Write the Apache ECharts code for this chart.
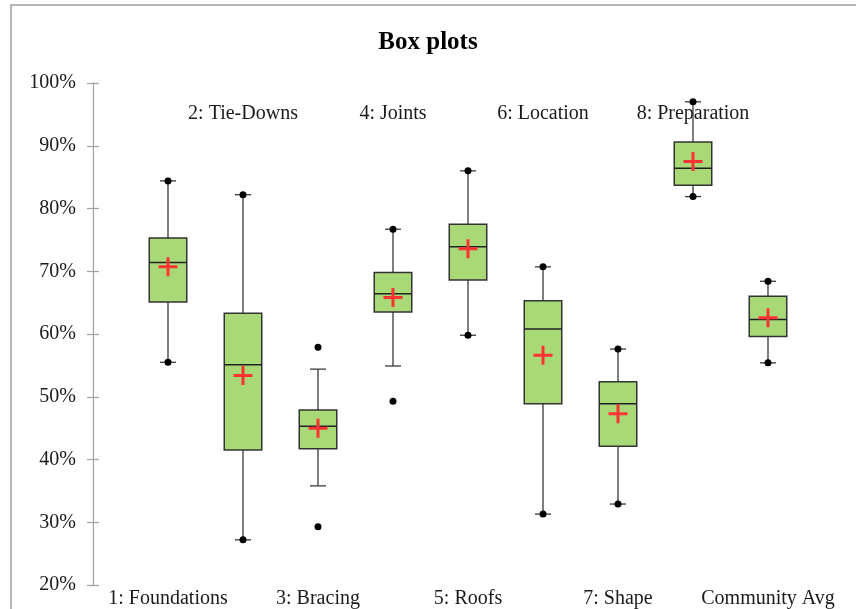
<!DOCTYPE html>
<html>
<head>
<meta charset="utf-8">
<script src="https://cdn.jsdelivr.net/npm/echarts@6/dist/echarts.min.js"></script>
<style>
  html, body { margin: 0; padding: 0; background: #fff; }
  #chart { width: 856px; height: 609px; }
</style>
</head>
<body>
<div id="chart"></div>
<script>
// categories and box statistics (percent)
var categories = ['1: Foundations', '2: Tie-Downs', '3: Bracing', '4: Joints', '5: Roofs', '6: Location', '7: Shape', '8: Preparation', 'Community Avg']
var whiskerLow = [55.5, 27.2, 35.8, 54.9, 59.8, 31.3, 32.9, 81.9, 55.4]
var q1 = [65.1, 41.5, 41.7, 63.5, 68.6, 48.9, 42.1, 83.7, 59.6]
var median = [71.4, 55.1, 45.3, 66.4, 73.9, 60.8, 48.9, 86.4, 62.3]
var q3 = [75.3, 63.3, 47.9, 69.8, 77.5, 65.3, 52.4, 90.6, 66.0]
var whiskerHigh = [84.4, 82.2, 54.4, 76.7, 86.0, 70.7, 57.6, 97.0, 68.4]
var means = [70.7, 53.4, 45.0, 65.8, 73.6, 56.6, 47.3, 87.5, 62.6]
var minima = [55.5, 27.2, 29.3, 49.3, 59.8, 31.3, 32.9, 81.9, 55.4]
var maxima = [84.4, 82.2, 57.9, 76.7, 86.0, 70.7, 57.6, 97.0, 68.4]
var yTicks = [20, 30, 40, 50, 60, 70, 80, 90, 100]

var serif = 'Liberation Serif'
var textColor = '#1a1a1a'

var boxData = categories.map(function (c, i) {
  return [i + 1, whiskerLow[i], q1[i], median[i], q3[i], whiskerHigh[i]]
})
var meanData = means.map(function (v, i) { return [i + 1, v] })
var extremeData = []
minima.forEach(function (v, i) { extremeData.push([i + 1, v]) })
maxima.forEach(function (v, i) { extremeData.push([i + 1, v]) })

function renderBox (params, api) {
  var x = api.value(0)
  var lo = api.coord([x, api.value(1)])
  var b1 = api.coord([x, api.value(2)])
  var md = api.coord([x, api.value(3)])
  var b3 = api.coord([x, api.value(4)])
  var hi = api.coord([x, api.value(5)])
  var w = api.size([0.5, 0])[0]
  var cw = 16
  var wStyle = { stroke: '#3a3a3a', lineWidth: 1.3 }
  return {
    type: 'group',
    children: [
      { type: 'line', shape: { x1: lo[0], y1: lo[1], x2: b1[0], y2: b1[1] }, style: wStyle },
      { type: 'line', shape: { x1: hi[0], y1: hi[1], x2: b3[0], y2: b3[1] }, style: wStyle },
      { type: 'line', shape: { x1: lo[0] - cw / 2, y1: lo[1], x2: lo[0] + cw / 2, y2: lo[1] }, style: wStyle },
      { type: 'line', shape: { x1: hi[0] - cw / 2, y1: hi[1], x2: hi[0] + cw / 2, y2: hi[1] }, style: wStyle },
      {
        type: 'rect',
        shape: { x: b3[0] - w / 2, y: b3[1], width: w, height: b1[1] - b3[1] },
        style: { fill: '#a8d976', stroke: '#333', lineWidth: 1.5 }
      },
      { type: 'line', shape: { x1: md[0] - w / 2, y1: md[1], x2: md[0] + w / 2, y2: md[1] }, style: { stroke: '#222', lineWidth: 1.5 } }
    ]
  }
}

var chart = echarts.init(document.getElementById('chart'))
var option = {
  animation: false,
  backgroundColor: '#fff',
  title: {
    text: 'Box plots',
    left: 'center',
    top: 25,
    textStyle: { fontFamily: serif, fontSize: 25, fontWeight: 'bold', color: '#000' }
  },
  graphic: [{
    type: 'rect',
    shape: { x: 11, y: 5, width: 900, height: 700 },
    style: { fill: 'none', stroke: '#a0a0a0', lineWidth: 1.5 },
    silent: true
  }],
  grid: { left: 93, right: 13, top: 83, bottom: 23 },
  xAxis: [
    {
      type: 'value', min: 0, max: 10, interval: 1, position: 'bottom',
      axisLine: { show: false }, axisTick: { show: false }, splitLine: { show: false },
      axisLabel: {
        margin: 4, fontFamily: serif, fontSize: 20, color: textColor,
        formatter: function (v) { return (v % 2 === 1 && v <= 9) ? categories[v - 1] : '' }
      }
    },
    {
      type: 'value', min: 0, max: 10, interval: 1, position: 'top',
      axisLine: { show: false }, axisTick: { show: false }, splitLine: { show: false },
      axisLabel: {
        inside: true, margin: 21, fontFamily: serif, fontSize: 20, color: textColor,
        formatter: function (v) { return (v % 2 === 0 && v > 0 && v < 10) ? categories[v - 1] : '' }
      }
    }
  ],
  yAxis: [
    {
      type: 'value', min: yTicks[0], max: yTicks[yTicks.length - 1], interval: 10,
      axisLine: { show: true, lineStyle: { color: '#a6a6a6', width: 1.3 } },
      axisTick: { show: true, length: 6, lineStyle: { color: '#a6a6a6', width: 1.3 } },
      splitLine: { show: false },
      axisLabel: { margin: 17, fontFamily: serif, fontSize: 20, color: textColor, formatter: '{value}%' }
    },
    {
      type: 'value', min: yTicks[0], max: yTicks[yTicks.length - 1], interval: 10, position: 'left',
      axisLine: { show: false },
      axisTick: { show: true, inside: true, length: 6, lineStyle: { color: '#a6a6a6', width: 1.3 } },
      axisLabel: { show: false }, splitLine: { show: false }
    }
  ],
  series: [
    {
      type: 'custom',
      renderItem: renderBox,
      encode: { x: 0, y: [1, 2, 3, 4, 5] },
      data: boxData,
      z: 2
    },
    {
      type: 'scatter',
      data: extremeData,
      symbol: 'circle',
      symbolSize: 7,
      itemStyle: { color: '#000', opacity: 1 },
      z: 3
    },
    {
      type: 'scatter',
      data: meanData,
      symbol: 'path://M8,0H11V8H19V11H11V19H8V11H0V8H8Z',
      symbolSize: 19,
      itemStyle: { color: '#ff3333', opacity: 1 },
      z: 4
    }
  ]
}
chart.setOption(option)
</script>
</body>
</html>
